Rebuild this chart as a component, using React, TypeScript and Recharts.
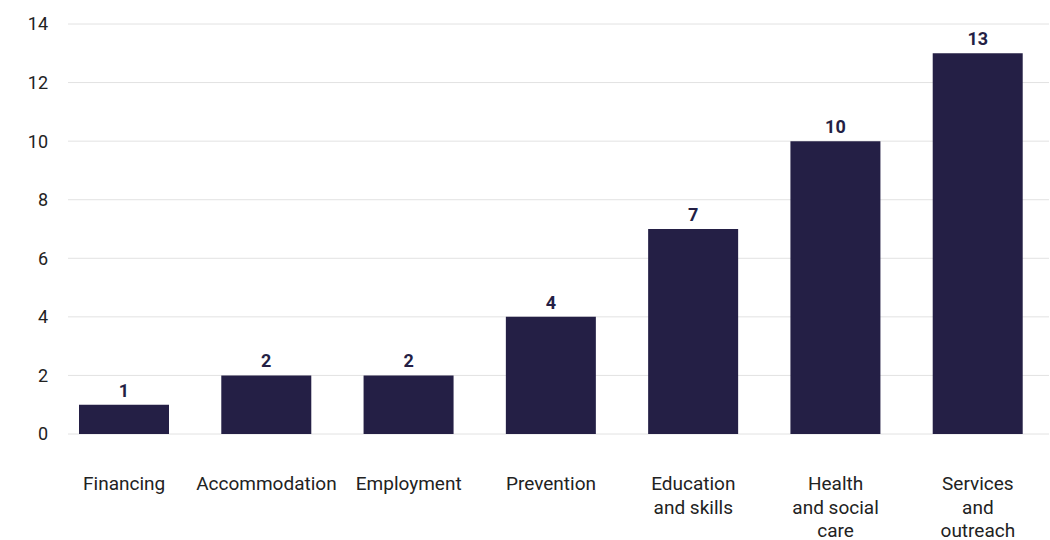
import { BarChart, Bar, XAxis, YAxis, CartesianGrid, LabelList } from "recharts";

const categories = [
  "Financing",
  "Accommodation",
  "Employment",
  "Prevention",
  "Education\nand skills",
  "Health\nand social\ncare",
  "Services\nand\noutreach",
];
const counts = [1, 2, 2, 4, 7, 10, 13];
const yTicks = [0, 2, 4, 6, 8, 10, 12, 14];

const BAR_COLOR = "#241f45";
const FONT = "Roboto, 'Noto Sans', sans-serif";

const chartData = categories.map((name, i) => ({ name, count: counts[i] }));

function CategoryTick(props: any) {
  const { x, y, payload } = props;
  const lines = String(payload.value).split("\n");
  return (
    <text
      x={x}
      y={y + 48}
      textAnchor="middle"
      fill="#222222"
      fontSize={19}
      fontFamily={FONT}
    >
      {lines.map((line, i) => (
        <tspan key={i} x={x} dy={i === 0 ? 0 : 23.5}>
          {line}
        </tspan>
      ))}
    </text>
  );
}

export default function App() {
  return (
    <div style={{ position: "absolute", left: 0, top: 0, background: "#fff" }}>
      <BarChart
        width={1050}
        height={540}
        data={chartData}
        margin={{ top: 24, right: 1, bottom: 0, left: 0 }}
      >
        <CartesianGrid vertical={false} stroke="#e2e2e2" />
        <XAxis
          dataKey="name"
          axisLine={false}
          tickLine={false}
          interval={0}
          height={106}
          padding={{ left: -15, right: 0 }}
          tick={<CategoryTick />}
        />
        <YAxis
          domain={[0, 14]}
          ticks={yTicks}
          axisLine={false}
          tickLine={false}
          width={68}
          tickMargin={14}
          tick={{ fontSize: 18, fill: "#222222", fontFamily: FONT }}
        />
        <Bar dataKey="count" fill={BAR_COLOR} barSize={90} isAnimationActive={false}>
          <LabelList
            dataKey="count"
            position="top"
            offset={8}
            fill={BAR_COLOR}
            fontSize={18}
            fontWeight={700}
            fontFamily={FONT}
          />
        </Bar>
      </BarChart>
    </div>
  );
}
